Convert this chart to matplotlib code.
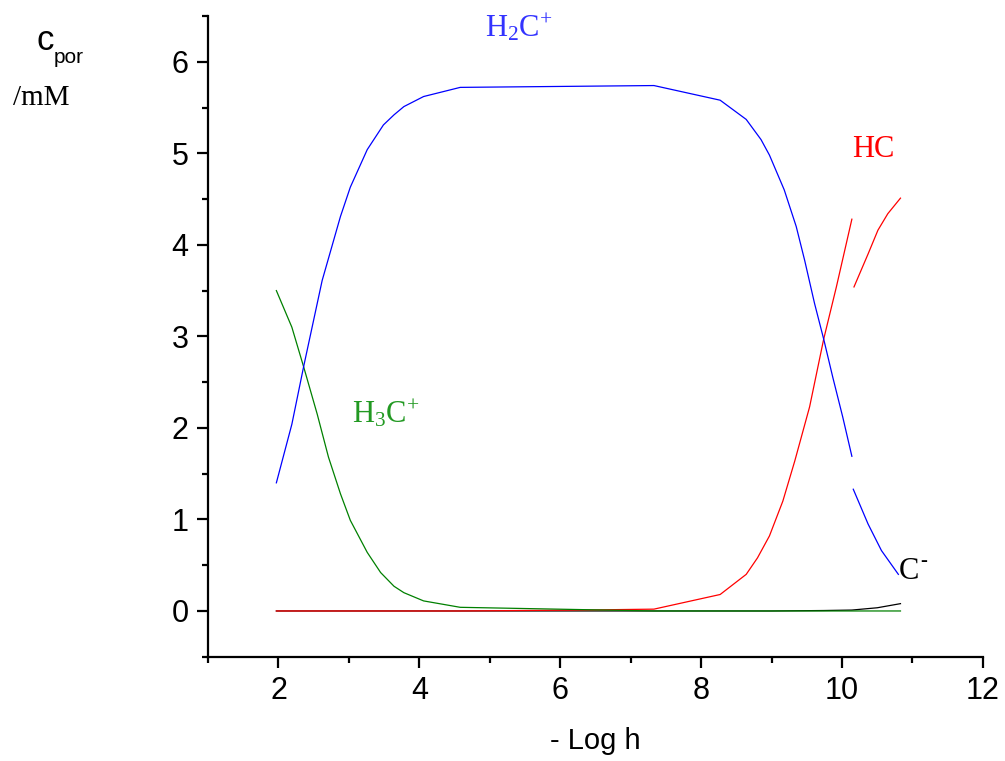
import matplotlib
matplotlib.use("Agg")
import matplotlib.pyplot as plt
from matplotlib.ticker import MultipleLocator

plt.rcParams['font.family'] = ['Liberation Sans', 'DejaVu Sans']
plt.rcParams['mathtext.fontset'] = 'custom'
plt.rcParams['mathtext.rm'] = 'Liberation Serif'
plt.rcParams['mathtext.it'] = 'Liberation Serif'

# H2C+ (blue), two pieces
h2c_x1 = [1.97, 2.19, 2.36, 2.62, 2.88, 3.02, 3.26, 3.49, 3.64, 3.78, 4.06, 4.58, 7.33, 8.27, 8.64,
          8.85, 8.97, 9.18, 9.35, 9.47, 9.61, 9.74, 9.87, 10.01, 10.14]
h2c_y1 = [1.40, 2.04, 2.68, 3.61, 4.31, 4.63, 5.04, 5.31, 5.42, 5.51, 5.62, 5.72, 5.74, 5.58, 5.37,
          5.15, 4.98, 4.60, 4.20, 3.83, 3.36, 2.97, 2.55, 2.12, 1.69]
h2c_x2 = [10.16, 10.37, 10.56, 10.80]
h2c_y2 = [1.33, 0.95, 0.66, 0.40]

# HC (red), two pieces
hc_x1 = [1.97, 4.58, 6.29, 7.33, 8.27, 8.64, 8.80, 8.97, 9.16, 9.33, 9.54, 9.74, 9.92, 10.14]
hc_y1 = [0.0, 0.0, 0.01, 0.02, 0.18, 0.40, 0.58, 0.82, 1.20, 1.64, 2.23, 2.97, 3.54, 4.28]
hc_x2 = [10.17, 10.37, 10.51, 10.65, 10.83]
hc_y2 = [3.54, 3.90, 4.16, 4.34, 4.51]

# H3C+ (green)
h3c_x = [1.97, 2.19, 2.36, 2.55, 2.71, 2.88, 3.02, 3.26, 3.45, 3.64, 3.78, 4.06, 4.58, 7.33, 10.83]
h3c_y = [3.50, 3.10, 2.66, 2.15, 1.68, 1.28, 0.99, 0.64, 0.42, 0.27, 0.20, 0.11, 0.04, 0.0, 0.0]

# C- (black)
c_x = [1.97, 9.0, 9.74, 10.14, 10.50, 10.83]
c_y = [0.0, 0.0, 0.005, 0.01, 0.035, 0.08]

fig = plt.figure(figsize=(10.05, 7.61), dpi=100)
ax = fig.add_axes([0.207, 0.137, 0.771, 0.842])

lw = 0.9
ax.plot(c_x, c_y, color='black', lw=lw)
ax.plot(hc_x1, hc_y1, color='#ff0000', lw=lw)
ax.plot(hc_x2, hc_y2, color='#ff0000', lw=lw)
ax.plot(h3c_x, h3c_y, color='#008000', lw=lw)
ax.plot(h2c_x1, h2c_y1, color='#0000ff', lw=lw)
ax.plot(h2c_x2, h2c_y2, color='#0000ff', lw=lw)

ax.set_xlim(1, 12)
ax.set_ylim(-0.5, 6.5)
ax.xaxis.set_major_locator(MultipleLocator(2))
ax.xaxis.set_minor_locator(MultipleLocator(1))
ax.yaxis.set_major_locator(MultipleLocator(1))
ax.yaxis.set_minor_locator(MultipleLocator(0.5))
for s in ['top', 'right']:
    ax.spines[s].set_visible(False)
for s in ['left', 'bottom']:
    ax.spines[s].set_linewidth(1.6)
ax.tick_params(which='major', direction='out', length=8, width=1.6, labelsize=22, pad=6)
ax.tick_params(which='minor', direction='out', length=4.5, width=1.6)

ax.set_xlabel('- Log h', fontsize=21, labelpad=15)

serif = 'Liberation Serif'
ax.text(4.93, 6.28, r'$\mathregular{H_2C^{\!+}}$', color='#3333ff', fontsize=22, family=serif, ha='left', va='baseline')
ax.text(10.14, 4.96, 'HC', color='#ff0000', fontsize=22, family=serif, ha='left', va='baseline')
ax.text(3.04, 2.06, r'$\mathregular{H_3C^{\!+}}$', color='#229922', fontsize=22, family=serif, ha='left', va='baseline')
ax.text(10.80, 0.35, 'C', color='black', fontsize=22, family=serif, ha='left', va='baseline')
ax.annotate('-', xy=(10.80, 0.35), xytext=(15.5, 9), textcoords='offset points',
            fontsize=15, family=serif, ha='left', va='baseline')

fig.text(36 / 1005, 1 - 50 / 761, 'c', fontsize=25, ha='left', va='baseline')
fig.text(54 / 1005, 1 - 63 / 761, 'por', fontsize=15, ha='left', va='baseline')
fig.text(13 / 1005, 1 - 105 / 761, '/mM', fontsize=21, family=serif, ha='left', va='baseline')

fig.savefig('out.png', dpi=100)
